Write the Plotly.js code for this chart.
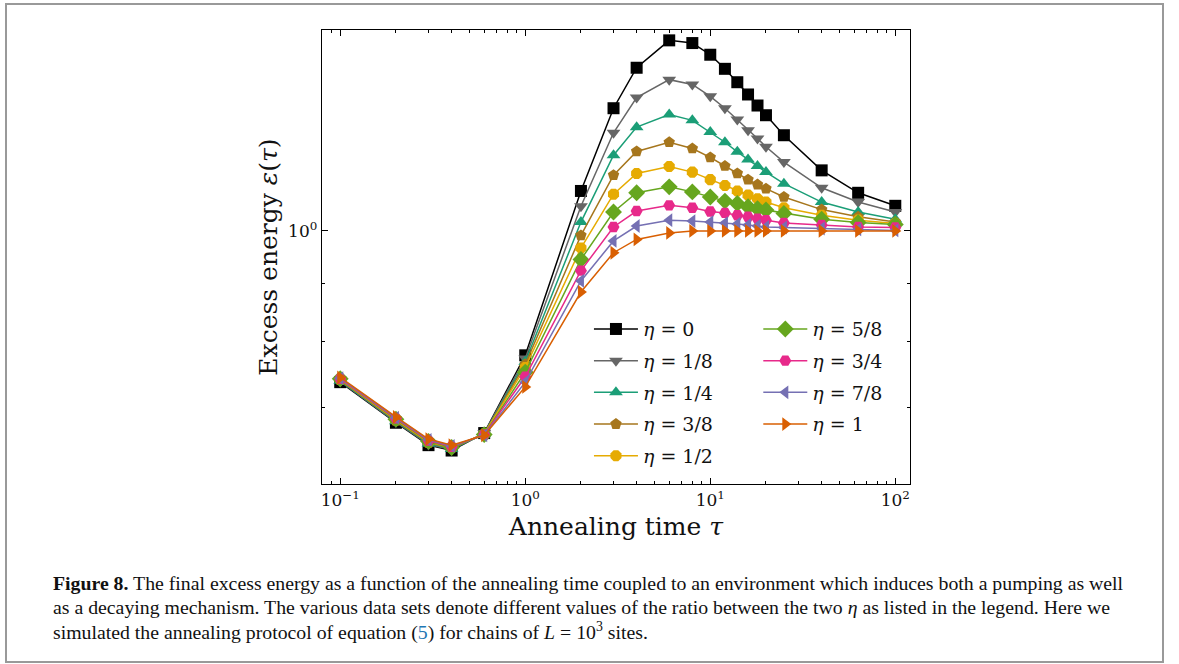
<!DOCTYPE html>
<html>
<head>
<meta charset="utf-8">
<script src="https://cdn.plot.ly/plotly-3.0.1.min.js"></script>
<style>html,body{margin:0;padding:0;background:#fff;}#chart{width:1179px;height:664px;}</style>
</head>
<body>
<div id="chart"></div>
<script>
// Annealing times tau
const tau = [0.1, 0.2, 0.3, 0.4, 0.6, 1, 2, 3, 4, 6, 8, 10, 12, 14, 16, 18, 20, 25, 40, 63, 100];

// Excess energy for each eta
const eta0   = [0.737, 0.679, 0.649, 0.642, 0.665, 0.778, 1.084, 1.281, 1.390, 1.469, 1.461, 1.427, 1.387, 1.350, 1.317, 1.288, 1.263, 1.213, 1.130, 1.080, 1.052];
const eta1_8 = [0.738, 0.680, 0.650, 0.643, 0.665, 0.773, 1.051, 1.219, 1.309, 1.357, 1.344, 1.312, 1.281, 1.252, 1.225, 1.205, 1.185, 1.149, 1.091, 1.060, 1.039];
const eta1_4 = [0.739, 0.681, 0.651, 0.644, 0.664, 0.768, 1.018, 1.165, 1.233, 1.265, 1.250, 1.221, 1.196, 1.173, 1.155, 1.140, 1.126, 1.100, 1.060, 1.039, 1.024];
const eta3_8 = [0.740, 0.682, 0.652, 0.645, 0.664, 0.764, 0.991, 1.119, 1.174, 1.196, 1.181, 1.160, 1.140, 1.123, 1.109, 1.098, 1.089, 1.071, 1.044, 1.029, 1.018];
const eta1_2 = [0.741, 0.683, 0.653, 0.646, 0.664, 0.759, 0.966, 1.077, 1.123, 1.139, 1.126, 1.109, 1.096, 1.084, 1.075, 1.067, 1.060, 1.048, 1.032, 1.022, 1.015];
const eta5_8 = [0.742, 0.684, 0.654, 0.646, 0.663, 0.752, 0.944, 1.039, 1.080, 1.093, 1.082, 1.071, 1.062, 1.057, 1.050, 1.046, 1.043, 1.036, 1.024, 1.017, 1.013];
const eta3_4 = [0.742, 0.685, 0.655, 0.647, 0.663, 0.745, 0.923, 1.008, 1.041, 1.053, 1.048, 1.040, 1.037, 1.032, 1.029, 1.025, 1.022, 1.016, 1.012, 1.008, 1.007];
const eta7_8 = [0.743, 0.686, 0.656, 0.648, 0.662, 0.737, 0.904, 0.980, 1.010, 1.022, 1.020, 1.018, 1.016, 1.014, 1.012, 1.010, 1.008, 1.007, 1.005, 1.003, 1.001];
const eta1   = [0.744, 0.687, 0.657, 0.649, 0.662, 0.730, 0.884, 0.957, 0.983, 0.996, 1.000, 1.000, 1.000, 1.000, 1.000, 1.000, 1.000, 1.000, 1.000, 1.000, 1.000];

const seriesNames = ['<i>η</i> = 0', '<i>η</i> = 1/8', '<i>η</i> = 1/4', '<i>η</i> = 3/8', '<i>η</i> = 1/2', '<i>η</i> = 5/8', '<i>η</i> = 3/4', '<i>η</i> = 7/8', '<i>η</i> = 1'];
const seriesData = [eta0, eta1_8, eta1_4, eta3_8, eta1_2, eta5_8, eta3_4, eta7_8, eta1];
const colors = ['#000000', '#666666', '#1b9e77', '#a6761d', '#e6ab02', '#66a61e', '#e7298a', '#7570b3', '#d95f02'];
const symbols = ['square', 'triangle-down', 'triangle-up', 'pentagon', 'octagon', 'diamond', 'hexagon2', 'triangle-left', 'triangle-right'];
const sizes = [12, 12, 12, 12, 12, 13, 12, 12, 12];

const xTickVals = [0.1, 1, 10, 100];
const xTickText = ['10<sup>−1</sup>', '10<sup>0</sup>', '10<sup>1</sup>', '10<sup>2</sup>'];
const xMinorVals = [0.09, 0.2, 0.3, 0.4, 0.5, 0.6, 0.7, 0.8, 0.9, 2, 3, 4, 5, 6, 7, 8, 9, 20, 30, 40, 50, 60, 70, 80, 90];
const yTickVals = [1];
const yTickText = ['10<sup>0</sup>'];
const yMinorVals = [0.7, 0.8, 0.9];

const traces = seriesData.map((d, i) => ({
  x: tau, y: d, type: 'scatter', mode: 'lines+markers', name: seriesNames[i],
  line: {color: colors[i], width: 1.5},
  marker: {symbol: symbols[i], size: sizes[i], color: colors[i], line: {width: 0}},
  legend: i < 5 ? 'legend' : 'legend2',
  legendgroup: 'g' + i
}));

const serif = 'DejaVu Serif, Liberation Serif, serif';
const capFont = {family: 'Liberation Serif, serif', size: 19.8, color: '#111'};
const legFont = {family: serif, size: 19, color: '#111'};

const layout = {
  width: 1179, height: 664,
  margin: {l: 322, r: 269, t: 30, b: 180},
  paper_bgcolor: '#fff', plot_bgcolor: '#fff',
  showlegend: true,
  xaxis: {
    type: 'log', range: [-1.0985, 2.0795],
    tickmode: 'array', tickvals: xTickVals, ticktext: xTickText,
    ticks: 'inside', ticklen: 6, tickwidth: 1, tickcolor: '#000',
    minor: {tickmode: 'array', tickvals: xMinorVals, ticks: 'inside', ticklen: 3, tickwidth: 1, tickcolor: '#000', showgrid: false},
    showline: true, linecolor: '#000', linewidth: 1.3, mirror: 'allticks',
    showgrid: false, zeroline: false,
    tickfont: {family: serif, size: 17, color: '#111'},
    title: {text: 'Annealing time <i>τ</i>', font: {family: serif, size: 25, color: '#111'}, standoff: 8}
  },
  yaxis: {
    type: 'log', range: [-0.2218, 0.1761],
    tickmode: 'array', tickvals: yTickVals, ticktext: yTickText,
    ticks: 'inside', ticklen: 6, tickwidth: 1, tickcolor: '#000',
    minor: {tickmode: 'array', tickvals: yMinorVals, ticks: 'inside', ticklen: 3, tickwidth: 1, tickcolor: '#000', showgrid: false},
    showline: true, linecolor: '#000', linewidth: 1.3, mirror: 'allticks',
    showgrid: false, zeroline: false,
    tickfont: {family: serif, size: 17, color: '#111'},
    title: {text: 'Excess energy <i>ε</i>(<i>τ</i>)', font: {family: serif, size: 25, color: '#111'}, standoff: 3}
  },
  legend: {
    x: 0.454, y: 0.383, xanchor: 'left', yanchor: 'top',
    bgcolor: 'rgba(0,0,0,0)', borderwidth: 0, font: legFont,
    itemwidth: 44, tracegroupgap: 4
  },
  legend2: {
    x: 0.742, y: 0.383, xanchor: 'left', yanchor: 'top',
    bgcolor: 'rgba(0,0,0,0)', borderwidth: 0, font: legFont,
    itemwidth: 44, tracegroupgap: 4
  },
  shapes: [{
    type: 'rect', xref: 'paper', yref: 'paper',
    x0: (6 - 322) / 588, x1: (1163 - 322) / 588,
    y0: (484 - 662) / 454, y1: (484 - 4) / 454,
    line: {color: '#999', width: 2}
  }],
  annotations: [
    {xref: 'paper', yref: 'paper', x: (51 - 322) / 588, y: (484 - 583) / 454, xanchor: 'left', yanchor: 'middle', showarrow: false, align: 'left', font: capFont,
     text: '<b>Figure 8.</b> The final excess energy as a function of the annealing time coupled to an environment which induces both a pumping as well'},
    {xref: 'paper', yref: 'paper', x: (51 - 322) / 588, y: (484 - 607) / 454, xanchor: 'left', yanchor: 'middle', showarrow: false, align: 'left', font: capFont,
     text: 'as a decaying mechanism. The various data sets denote different values of the ratio between the two <i>η</i> as listed in the legend. Here we'},
    {xref: 'paper', yref: 'paper', x: (51 - 322) / 588, y: (484 - 631) / 454, xanchor: 'left', yanchor: 'middle', showarrow: false, align: 'left', font: capFont,
     text: 'simulated the annealing protocol of equation (<span style="fill:#1f77b4">5</span>) for chains of <i>L</i> = 10<sup>3</sup> sites.'}
  ]
};

Plotly.newPlot('chart', traces, layout, {staticPlot: true, displayModeBar: false});
</script>
</body>
</html>
